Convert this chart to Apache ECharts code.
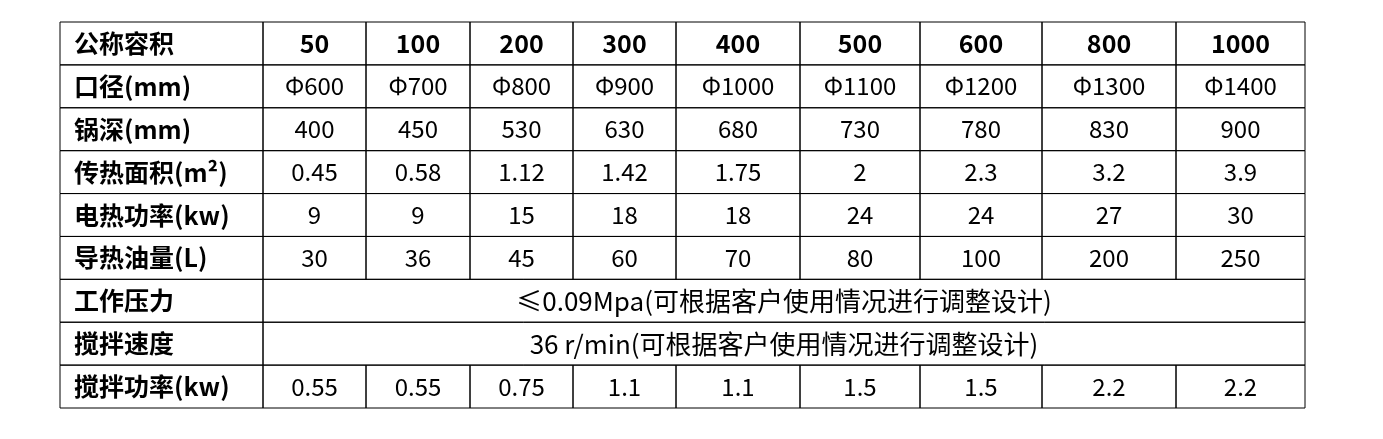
<!DOCTYPE html>
<html><head><meta charset="utf-8">
<script src="https://cdn.jsdelivr.net/npm/echarts@6/dist/echarts.min.js"></script>
<style>html,body{margin:0;padding:0;background:#fff}#c{width:1383px;height:439px}</style>
</head><body><div id="c"></div>
<script>
const rowLabels = ['公称容积','口径(mm)','锅深(mm)','传热面积(m²)','电热功率(kw)','导热油量(L)','工作压力','搅拌速度','搅拌功率(kw)'];
const volume = ['50','100','200','300','400','500','600','800','1000'];
const diameter = ['Φ600','Φ700','Φ800','Φ900','Φ1000','Φ1100','Φ1200','Φ1300','Φ1400'];
const depth = ['400','450','530','630','680','730','780','830','900'];
const heatArea = ['0.45','0.58','1.12','1.42','1.75','2','2.3','3.2','3.9'];
const heatPower = ['9','9','15','18','18','24','24','27','30'];
const oilVolume = ['30','36','45','60','70','80','100','200','250'];
const pressure = '≤0.09Mpa(可根据客户使用情况进行调整设计)';
const speed = '36 r/min(可根据客户使用情况进行调整设计)';
const stirPower = ['0.55','0.55','0.75','1.1','1.1','1.5','1.5','2.2','2.2'];

// column boundaries (layout)
const colEdges = [0, 203, 306, 410, 513, 616, 740, 860, 982, 1116, 1245];

const cells = [];
const rows = [volume, diameter, depth, heatArea, heatPower, oilVolume, pressure, speed, stirPower];
rows.forEach((r, ri) => {
  cells.push([colEdges[0], colEdges[1], ri, rowLabels[ri], 2]);
  if (typeof r === 'string') {
    cells.push([colEdges[1], colEdges[10], ri, r, 3]);
  } else {
    r.forEach((v, ci) => cells.push([colEdges[ci+1], colEdges[ci+2], ri, v, ri === 0 ? 1 : 0]));
  }
});
const fonts = ['24px', 'bold 25px', 'bold 25px', '26px'];

const chart = echarts.init(document.getElementById('c'));
chart.setOption({
  animation: false,
  grid: {left: 60, right: 78, top: 22, bottom: 31},
  xAxis: {type: 'value', min: 0, max: 1245, show: false},
  yAxis: {type: 'category', data: rowLabels, inverse: true, show: false},
  series: [{
    type: 'custom',
    data: cells,
    renderItem: function (params, api) {
      const x0 = api.coord([api.value(0), api.value(2)]);
      const x1 = api.coord([api.value(1), api.value(2)]);
      const h = api.size([0, 1])[1];
      const kind = api.value(4);
      const left = api.value(0) === 0;
      const txt = cells[params.dataIndex][3];
      return {
        type: 'group',
        children: [{
          type: 'rect',
          shape: {x: x0[0], y: x0[1] - h/2, width: x1[0] - x0[0], height: h},
          style: {fill: 'rgba(0,0,0,0)', stroke: '#000', lineWidth: 1}
        }, {
          type: 'text',
          style: {
            text: txt,
            x: left ? x0[0] + 14 : (x0[0] + x1[0]) / 2,
            y: x0[1],
            align: left ? 'left' : 'center',
            verticalAlign: 'middle',
            fill: '#000',
            font: fonts[kind] + ' "Noto Sans CJK SC", "Noto Sans", sans-serif'
          }
        }]
      };
    }
  }]
});
</script></body></html>
